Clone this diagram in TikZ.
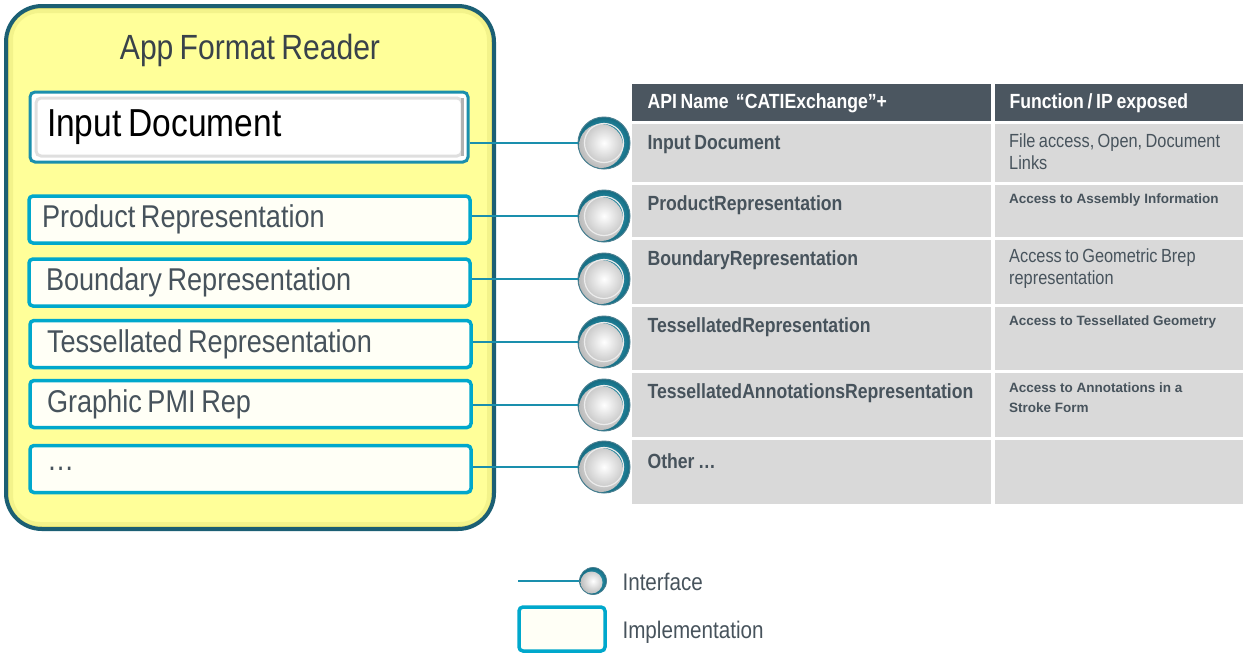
\documentclass[tikz,border=0pt]{standalone}
\usepackage{fontspec}
\setmainfont{Liberation Sans}[FakeStretch=0.86, WordSpace=0.75]
\newfontfamily\plainfont{Liberation Sans}
\definecolor{slate}{HTML}{47535C}
\definecolor{headgray}{HTML}{4B5660}
\definecolor{cellgray}{HTML}{D9D9D9}
\definecolor{implblue}{HTML}{00A8CC}
\definecolor{wireblue}{HTML}{1A8FAD}
\definecolor{readerteal}{HTML}{1B5F74}
\definecolor{readeryellow}{HTML}{FFFF99}
\definecolor{ivory}{HTML}{FFFFF6}
\tikzset{
  implbox/.style={draw=implblue, line width=3.5pt, fill=ivory, rounded corners=4pt,
    minimum width=441pt, minimum height=47pt, inner xsep=13pt, text width=415pt,
    align=flush left, text=slate, font=\fontsize{31.5}{34}\selectfont,
    execute at begin node={\spaceskip=0pt\xspaceskip=0pt}},
  iface/.style={circle, minimum size=52pt, inner sep=0pt, draw=readerteal!80, line width=1pt,
    inner color=implblue!70!white, outer color=wireblue!75!black, shade,
    path picture={\shade[inner color=white, outer color=gray!55] ([shift={(-3pt,-3pt)}]path picture bounding box.center) circle (22pt);
      \draw[white!85!gray, line width=1.2pt] (path picture bounding box.center) circle (19.5pt);}},
  wire/.style={draw=wireblue, line width=1.8pt},
  cell/.style={fill=cellgray, anchor=north west, inner sep=0pt},
  head/.style={fill=headgray, anchor=north west, inner sep=0pt},
  apitext/.style={anchor=west, text=slate, font=\bfseries\fontsize{20.5}{22}\selectfont},
  fntext/.style={anchor=north west, text=slate, align=flush left, inner sep=0pt, font=\fontsize{19}{22}\selectfont},
  fnsmall/.style={anchor=north west, text=slate, align=flush left, inner sep=0pt, font=\plainfont\bfseries\fontsize{13.5}{20}\selectfont},
}
\begin{document}
\begin{tikzpicture}[x=1pt,y=-1pt]
  \useasboundingbox (0,0) rectangle (1260,657);
  % reader
  \node[rounded corners=36pt, draw=readerteal, line width=4pt, fill=readeryellow,
    minimum width=488pt, minimum height=523pt, inner sep=0pt,
    path picture={
      \draw[rounded corners=34pt, line width=14pt, draw=readeryellow!75!olive, opacity=0.35]
        (path picture bounding box.south west) rectangle (path picture bounding box.north east);
      \draw[rounded corners=34pt, line width=6pt, draw=readeryellow!60!olive, opacity=0.5]
        (path picture bounding box.south west) rectangle (path picture bounding box.north east);}]
    (reader) at (250,267.5) {};
  \node[text=slate!80!black, font=\fontsize{35}{40}\selectfont] (title) at (250,50) {App Format Reader};

  \node[draw=wireblue, line width=3pt, fill=white, rounded corners=5pt,
    minimum width=438pt, minimum height=70pt, inner xsep=17pt, text width=404pt, align=flush left,
    font=\fontsize{39}{44}\selectfont, execute at begin node={\spaceskip=0pt\xspaceskip=0pt},
    path picture={
      \draw[gray!25, line width=3pt] ([shift={(6pt,6pt)}]path picture bounding box.south west)
        rectangle ([shift={(-6pt,-6pt)}]path picture bounding box.north east);
      \draw[gray!60, line width=3pt] ([shift={(-6pt,6pt)}]path picture bounding box.south east)
        -- ([shift={(-6pt,-6pt)}]path picture bounding box.north east);}]
    (ind) at (249,127) {Input Document};
  \node[implbox] (prod) at (249.5,219.5) {Product Representation};
  \node[implbox, inner xsep=17pt, text width=407pt] (brep) at (249.5,282.5) {Boundary Representation};
  \node[implbox, inner xsep=17pt, text width=407pt] (tess) at (250.5,344) {Tessellated Representation};
  \node[implbox, inner xsep=17pt, text width=407pt] (pmi) at (250.5,404) {Graphic PMI Rep};
  \node[implbox, inner xsep=17pt, text width=407pt] (other) at (250.5,469) {\dots};

  % table
  \node[head, minimum width=359pt, minimum height=37pt] (h1) at (632,84) {};
  \node[head, minimum width=248pt, minimum height=37pt] (h2) at (995,84) {};
  \node[cell, minimum width=359pt, minimum height=58pt] (c11) at (632,124) {};
  \node[cell, minimum width=248pt, minimum height=58pt] (c12) at (995,124) {};
  \node[cell, minimum width=359pt, minimum height=52pt] (c21) at (632,185) {};
  \node[cell, minimum width=248pt, minimum height=52pt] (c22) at (995,185) {};
  \node[cell, minimum width=359pt, minimum height=64pt] (c31) at (632,240) {};
  \node[cell, minimum width=248pt, minimum height=64pt] (c32) at (995,240) {};
  \node[cell, minimum width=359pt, minimum height=63pt] (c41) at (632,307) {};
  \node[cell, minimum width=248pt, minimum height=63pt] (c42) at (995,307) {};
  \node[cell, minimum width=359pt, minimum height=64pt] (c51) at (632,373) {};
  \node[cell, minimum width=248pt, minimum height=64pt] (c52) at (995,373) {};
  \node[cell, minimum width=359pt, minimum height=64pt] (c61) at (632,440) {};
  \node[cell, minimum width=248pt, minimum height=64pt] (c62) at (995,440) {};

  \node[apitext, text=white] (th1) at (644,103) {API Name \ “CATIExchange”+};
  \node[apitext, text=white] (th2) at (1006,103) {Function / IP exposed};
  \node[apitext] (t1) at (644,145) {Input Document};
  \node[apitext] (t2) at (644,205) {ProductRepresentation};
  \node[apitext] (t3) at (644,260) {BoundaryRepresentation};
  \node[apitext] (t4) at (644,327) {TessellatedRepresentation};
  \node[apitext] (t5) at (644,393) {TessellatedAnnotationsRepresentation};
  \node[apitext] (t6) at (644,461) {Other \dots};
  \node[fntext] (f1) at (1009,134) {File access, Open, Document\\Links};
  \node[fnsmall] (f2) at (1009,194) {Access to Assembly Information};
  \node[fntext] (f3) at (1009,249) {Access to Geometric Brep\\representation};
  \node[fnsmall] (f4) at (1009,316) {Access to Tessellated Geometry};
  \node[fnsmall] (f5) at (1009,383) {Access to Annotations in a\\Stroke Form};

  % interfaces
  \node[iface] (if1) at (604,143) {};
  \node[iface] (if2) at (604,216) {};
  \node[iface] (if3) at (604,279) {};
  \node[iface] (if4) at (604,342) {};
  \node[iface] (if5) at (604,405) {};
  \node[iface] (if6) at (604,467) {};
  \draw[wire] (ind.east |- if1) -- (if1);
  \draw[wire] (prod.east |- if2) -- (if2);
  \draw[wire] (brep.east |- if3) -- (if3);
  \draw[wire] (tess.east |- if4) -- (if4);
  \draw[wire] (pmi.east |- if5) -- (if5);
  \draw[wire] (other.east |- if6) -- (if6);

  % legend
  \coordinate (lg0) at (518,581);
  \node[iface, minimum size=27pt, line width=0.8pt,
    path picture={\shade[inner color=white, outer color=gray!55] ([shift={(-1.5pt,-1.5pt)}]path picture bounding box.center) circle (11pt);}]
    (lgif) at (593,581) {};
  \draw[wire] (lg0) -- (lgif);
  \node[anchor=west, text=slate, font=\fontsize{24}{28}\selectfont] (lgt1) at (619,582) {Interface};
  \node[implbox, minimum width=86pt, minimum height=44pt, text width={}, inner xsep=0pt] (lgimpl) at (562,629) {};
  \node[anchor=west, text=slate, font=\fontsize{24}{28}\selectfont] (lgt2) at (619,632) {Implementation};
\end{tikzpicture}
\end{document}
